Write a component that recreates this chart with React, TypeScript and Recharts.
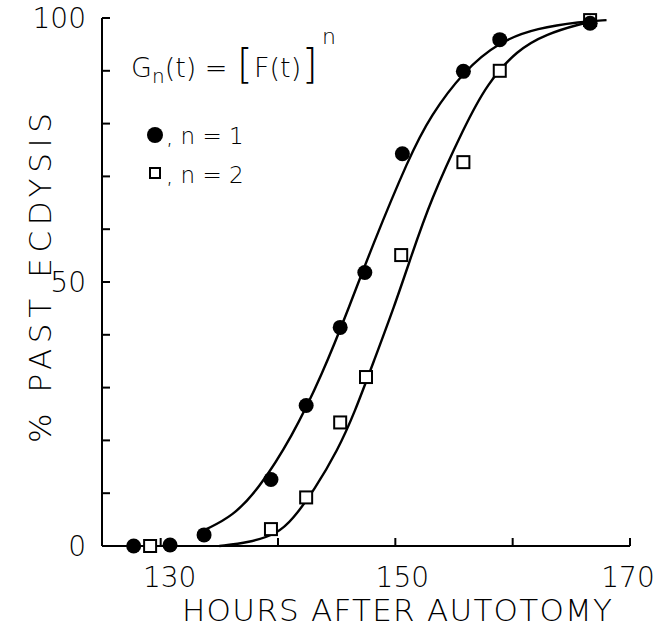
import React from 'react';
import { ComposedChart, Line, Scatter, XAxis, YAxis } from 'recharts';

// measured points, n = 1 (filled circles)
const circleHours = [127.7, 130.8, 133.7, 139.4, 142.4, 145.3, 147.4, 150.6, 155.8, 158.9, 166.6];
const circlePct = [0, 0.2, 2.1, 12.6, 26.6, 41.4, 51.8, 74.3, 89.9, 95.9, 99];

// measured points, n = 2 (open squares)
const squareHours = [129.1, 139.4, 142.4, 145.3, 147.5, 150.5, 155.8, 158.9, 166.6];
const squarePct = [0, 3.2, 9.2, 23.4, 32.0, 55.1, 72.7, 90.0, 99.6];

// fitted curves
const curve1Hours = [133.9, 136.1, 138.3, 141.2, 143.7, 146.2, 147.9, 151.2, 153.0, 155.8, 158.9, 162.1, 165.8, 168.0];
const curve1Pct = [3.2, 5.6, 10.6, 20.7, 32.1, 46.0, 56.1, 73.8, 81.5, 89.9, 95.6, 98.1, 99.3, 99.6];
const curve2Hours = [135.0, 137.5, 140.0, 141.2, 143.1, 145.1, 146.5, 148.2, 149.9, 151.3, 153.0, 155.9, 157.8, 160.4, 162.9, 165.8, 166.6];
const curve2Pct = [0, 0.6, 2.4, 4.9, 10.6, 18.2, 25.1, 35.2, 45.3, 54.5, 65.5, 79.5, 87.5, 94.0, 97.0, 98.9, 99.2];

const xTicks = [130, 140, 150, 160, 170];
const xLabels = [130, 150, 170];
const xLabelShift = [9, 7, -2];
const yTicks = [0, 10, 20, 30, 40, 50, 60, 70, 80, 90, 100];
const yLabels = [0, 50, 100];

const zip = (ts: number[], vs: number[]) => ts.map((t, i) => ({ t, v: vs[i] }));

const circles = zip(circleHours, circlePct);
const squares = zip(squareHours, squarePct);
const curve1 = zip(curve1Hours, curve1Pct);
const curve2 = zip(curve2Hours, curve2Pct);

const FONT = '"DejaVu Sans", sans-serif';

const XTick = ({ x, y, payload }: any) => {
  const idx = xLabels.indexOf(payload.value);
  return (
    <g>
      <line x1={x} y1={y} x2={x} y2={y - 8} stroke="#000" strokeWidth={2} />
      {idx >= 0 && (
        <text x={x + xLabelShift[idx]} y={y + 41} textAnchor="middle" fontSize={28} fontFamily={FONT} fontWeight={200} fill="#000">
          {payload.value}
        </text>
      )}
    </g>
  );
};

const YTick = ({ x, y, payload }: any) => (
  <g>
    <line x1={x} y1={y} x2={x + 8} y2={y} stroke="#000" strokeWidth={2} />
    {yLabels.includes(payload.value) && (
      <text x={x - 16} y={y + 10} textAnchor="end" fontSize={28} fontFamily={FONT} fontWeight={200} fill="#000">
        {payload.value}
      </text>
    )}
  </g>
);

const Dot = ({ cx, cy }: any) => <circle cx={cx} cy={cy} r={7.5} fill="#000" />;
const Box = ({ cx, cy }: any) => (
  <rect x={cx - 6} y={cy - 6} width={12} height={12} fill="#fff" stroke="#000" strokeWidth={2} />
);

const App: React.FC = () => {
  return (
    <div style={{ position: 'absolute', left: 0, top: 0, width: 662, height: 631, background: '#fff' }}>
      <ComposedChart width={662} height={631} margin={{ top: 18, right: 32, bottom: 25, left: 12 }}>
        <XAxis
          type="number"
          dataKey="t"
          domain={[125, 170]}
          ticks={xTicks}
          allowDataOverflow
          height={60}
          tickSize={0}
          tickMargin={0}
          tickLine={false}
          tick={<XTick />}
          axisLine={{ stroke: '#000', strokeWidth: 2 }}
        />
        <YAxis
          type="number"
          dataKey="v"
          domain={[0, 100]}
          ticks={yTicks}
          width={90}
          tickSize={0}
          tickMargin={0}
          tickLine={false}
          tick={<YTick />}
          axisLine={{ stroke: '#000', strokeWidth: 2 }}
        />
        <Line data={curve1} dataKey="v" type="basis" stroke="#000" strokeWidth={2.4} dot={false} isAnimationActive={false} />
        <Line data={curve2} dataKey="v" type="basis" stroke="#000" strokeWidth={2.4} dot={false} isAnimationActive={false} />
        <Scatter data={squares} dataKey="v" shape={<Box />} isAnimationActive={false} />
        <Scatter data={circles} dataKey="v" shape={<Dot />} isAnimationActive={false} />
      </ComposedChart>
      <svg width={662} height={631} style={{ position: 'absolute', left: 0, top: 0, pointerEvents: 'none' }}>
        <g fontFamily={FONT} fontWeight={200} fill="#000">
          <text x={131} y={77} fontSize={27}>
            G<tspan fontSize={20} dy={6}>n</tspan>
            <tspan dy={-6}>(t) =</tspan>
          </text>
          <text x={237} y={78} fontSize={40}>[</text>
          <text x={254} y={77} fontSize={27}>F(t)</text>
          <text x={302} y={78} fontSize={40}>]</text>
          <text x={322} y={44} fontSize={22}>n</text>
          <circle cx={155} cy={135} r={8} fill="#000" />
          <text x={166} y={144} fontSize={23}>, n = 1</text>
          <rect x={150} y={168} width={10} height={10} fill="#fff" stroke="#000" strokeWidth={2} />
          <text x={166} y={183} fontSize={23}>, n = 2</text>
          <text x={397} y={621} fontSize={31} textAnchor="middle" textLength={430} lengthAdjust="spacing">
            HOURS AFTER  AUTOTOMY
          </text>
          <text
            x={0}
            y={0}
            fontSize={31}
            textAnchor="middle"
            textLength={330}
            lengthAdjust="spacing"
            transform="translate(51 278) rotate(-90)"
          >
            % PAST ECDYSIS
          </text>
        </g>
      </svg>
    </div>
  );
};

export default App;
